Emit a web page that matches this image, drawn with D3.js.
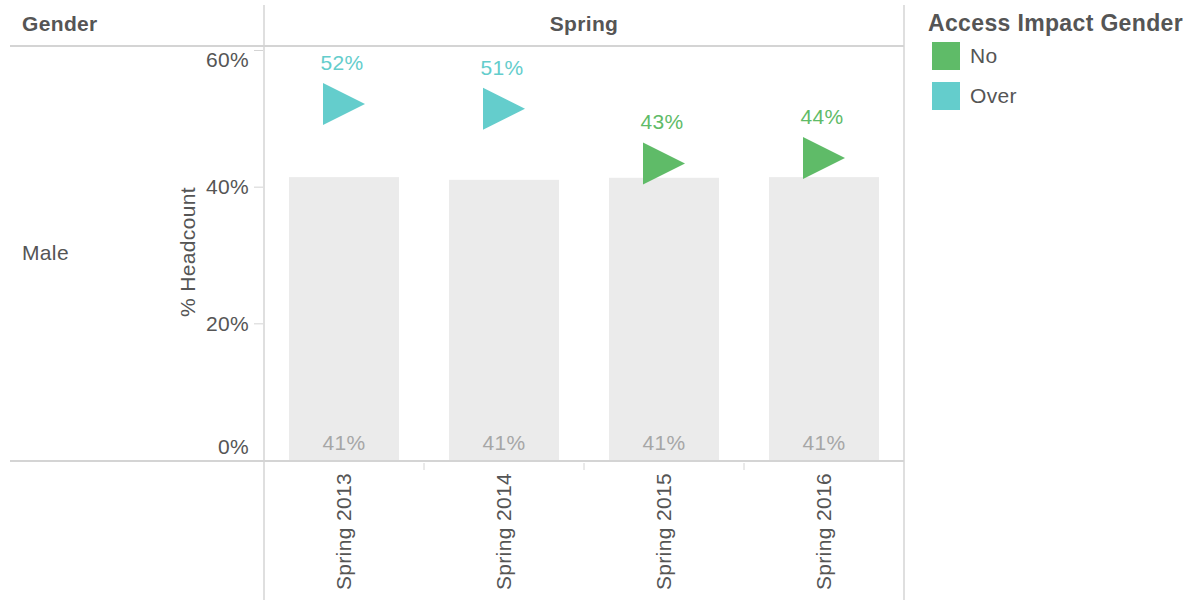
<!DOCTYPE html>
<html>
<head>
<meta charset="utf-8">
<script src="https://cdn.jsdelivr.net/npm/d3@7"></script>
<style>
  body { margin: 0; background: #fff; }
  svg text { font-family: "Liberation Sans", Arial, sans-serif; letter-spacing: 0.35px; }
</style>
</head>
<body>
<div id="chart"></div>
<script>
// data
const terms = ['Spring 2013', 'Spring 2014', 'Spring 2015', 'Spring 2016'];
const barValues = [0.414, 0.41, 0.413, 0.414];
const markerValues = [0.521, 0.514, 0.434, 0.442];
const markerGroup = ['Over', 'Over', 'No', 'No'];
const legendItems = ['No', 'Over'];
const yTicks = [0, 0.2, 0.4, 0.6];

const W = 1190, H = 600;
const paneLeft = 264, paneRight = 904, paneTop = 46, paneBottom = 461;
const gridColor = '#d4d4d4';
const fs = 21;

const color = d3.scaleOrdinal()
  .domain(legendItems)
  .range(['#5fbb68', '#64cdcc']);

const svg = d3.select('#chart')
  .append('svg')
  .attr('width', W)
  .attr('height', H);

const x = d3.scaleBand()
  .domain(terms)
  .range([paneLeft, paneRight])
  .paddingInner(50 / 160)
  .paddingOuter(25 / 160);

const xCol = d3.scaleBand()
  .domain(terms)
  .range([paneLeft, paneRight]);

const y = d3.scaleLinear()
  .domain([0, 0.6])
  .range([paneBottom - 1, 50]);

const fmt = d3.format('.0%');

// header texts
svg.append('text')
  .attr('x', 22).attr('y', 31)
  .attr('font-size', fs).attr('font-weight', 'bold')
  .attr('fill', '#555')
  .text('Gender');

svg.append('text')
  .attr('x', (paneLeft + paneRight) / 2).attr('y', 31)
  .attr('text-anchor', 'middle')
  .attr('font-size', fs).attr('font-weight', 'bold')
  .attr('fill', '#555')
  .text('Spring');

svg.append('text')
  .attr('x', 22).attr('y', 260)
  .attr('font-size', fs)
  .attr('fill', '#555')
  .text('Male');

// grid / frame lines
svg.append('line')
  .attr('x1', 10).attr('x2', paneRight)
  .attr('y1', paneTop).attr('y2', paneTop)
  .attr('stroke', gridColor).attr('stroke-width', 2);

svg.append('line')
  .attr('x1', 10).attr('x2', paneRight)
  .attr('y1', paneBottom).attr('y2', paneBottom)
  .attr('stroke', gridColor).attr('stroke-width', 2);

[paneLeft, paneRight].forEach(px => {
  svg.append('line')
    .attr('x1', px).attr('x2', px)
    .attr('y1', 5).attr('y2', H)
    .attr('stroke', gridColor).attr('stroke-width', 1.5);
});

// bars
svg.selectAll('.bar')
  .data(terms)
  .enter()
  .append('rect')
  .attr('class', 'bar')
  .attr('x', d => x(d))
  .attr('width', x.bandwidth())
  .attr('y', (d, i) => y(barValues[i]))
  .attr('height', (d, i) => y(0) - y(barValues[i]))
  .attr('fill', '#ebebeb');

svg.selectAll('.bar-label')
  .data(terms)
  .enter()
  .append('text')
  .attr('class', 'bar-label')
  .attr('x', d => x(d) + x.bandwidth() / 2)
  .attr('y', paneBottom - 11)
  .attr('text-anchor', 'middle')
  .attr('font-size', fs)
  .attr('fill', '#a6a6a6')
  .text((d, i) => fmt(barValues[i]));

// triangle markers
const tri = 21;
svg.selectAll('.marker')
  .data(terms)
  .enter()
  .append('path')
  .attr('class', 'marker')
  .attr('transform', (d, i) => `translate(${xCol(d) + xCol.bandwidth() / 2},${y(markerValues[i])})`)
  .attr('d', `M${-tri},${-tri}L${tri},0L${-tri},${tri}Z`)
  .attr('fill', (d, i) => color(markerGroup[i]));

svg.selectAll('.marker-label')
  .data(terms)
  .enter()
  .append('text')
  .attr('class', 'marker-label')
  .attr('x', d => xCol(d) + xCol.bandwidth() / 2 - 2)
  .attr('y', (d, i) => y(markerValues[i]) - 34)
  .attr('text-anchor', 'middle')
  .attr('font-size', fs)
  .attr('fill', (d, i) => color(markerGroup[i]))
  .text((d, i) => fmt(markerValues[i]));

// y axis
const yAxis = svg.append('g')
  .attr('transform', `translate(${paneLeft - 1},0)`)
  .call(d3.axisLeft(y).tickValues(yTicks).tickFormat(fmt).tickSize(9).tickPadding(5));

yAxis.select('.domain').remove();
yAxis.selectAll('line').attr('stroke', gridColor);
yAxis.selectAll('text')
  .attr('font-size', fs)
  .attr('fill', '#555')
  .attr('font-family', '"Liberation Sans", Arial, sans-serif')
  .attr('dy', d => d === 0.6 ? 16 : d === 0 ? -7 : 7);

svg.append('text')
  .attr('transform', `translate(195,252) rotate(-90)`)
  .attr('text-anchor', 'middle')
  .attr('font-size', fs)
  .attr('fill', '#555')
  .text('% Headcount');

// x axis labels
svg.selectAll('.col-tick')
  .data(terms.slice(1))
  .enter()
  .append('line')
  .attr('class', 'col-tick')
  .attr('x1', d => xCol(d)).attr('x2', d => xCol(d))
  .attr('y1', paneBottom + 2).attr('y2', paneBottom + 9)
  .attr('stroke', gridColor);

svg.selectAll('.x-label')
  .data(terms)
  .enter()
  .append('text')
  .attr('class', 'x-label')
  .attr('transform', d => `translate(${xCol(d) + xCol.bandwidth() / 2 + 7},473) rotate(-90)`)
  .attr('text-anchor', 'end')
  .attr('font-size', fs)
  .attr('fill', '#555')
  .text(d => d);

// legend
const legend = svg.append('g').attr('transform', 'translate(928,0)');

legend.append('text')
  .attr('x', 0).attr('y', 31)
  .attr('font-size', 23).attr('font-weight', 'bold')
  .attr('fill', '#555')
  .text('Access Impact Gender');

const item = legend.selectAll('.item')
  .data(legendItems)
  .enter()
  .append('g')
  .attr('transform', (d, i) => `translate(4,${42 + i * 40})`);

item.append('rect')
  .attr('width', 28).attr('height', 28)
  .attr('fill', d => color(d));

item.append('text')
  .attr('x', 38).attr('y', 21)
  .attr('font-size', fs)
  .attr('fill', '#555')
  .text(d => d);
</script>
</body>
</html>
